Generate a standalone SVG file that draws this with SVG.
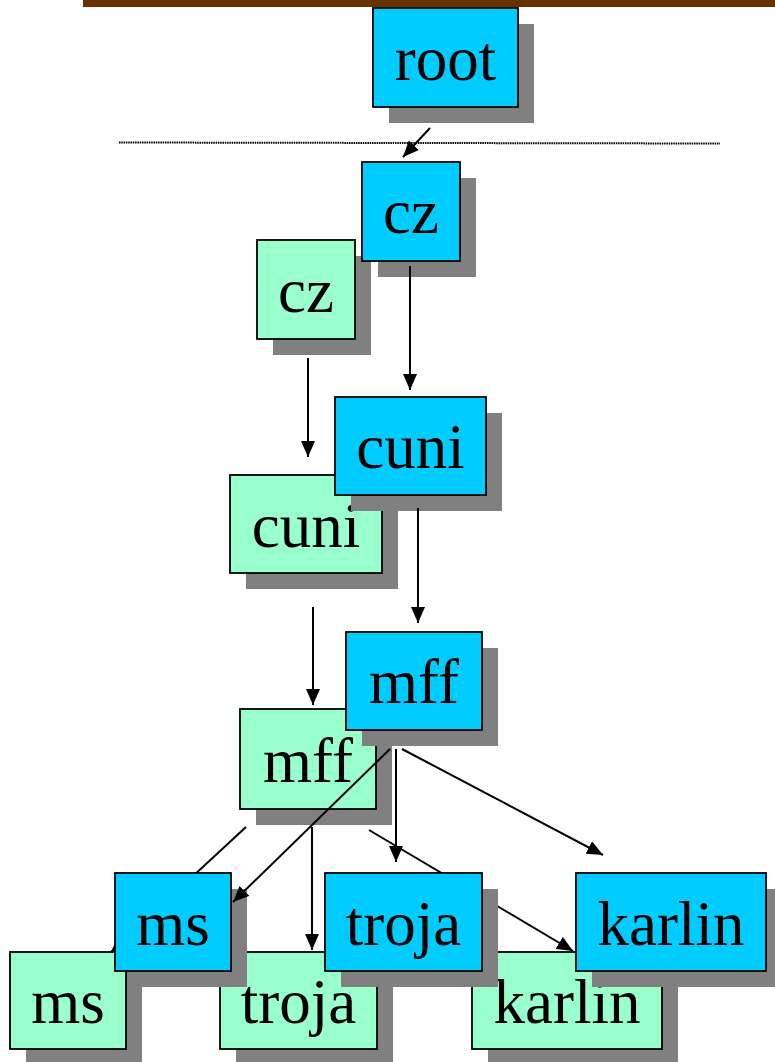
<svg xmlns="http://www.w3.org/2000/svg" width="775" height="1062" viewBox="0 0 775 1062">
<style>
.sh{fill:#808080}
.b{fill:#00CCFF;stroke:#000;stroke-width:1.8}
.g{fill:#99FFCC;stroke:#000;stroke-width:1.8}
.t{font-family:"Liberation Serif","Times New Roman",serif;font-size:63px;fill:#000;text-anchor:middle}
.c{stroke:#000;stroke-width:2;fill:none;marker-end:url(#ah)}
</style>
<defs>
<marker id="ah" markerUnits="userSpaceOnUse" markerWidth="16" markerHeight="14" refX="16" refY="7" orient="auto">
<path d="M0,0 L16,7 L0,14 z" fill="#000"/>
</marker>
</defs>
<rect x="83" y="0" width="692" height="7" fill="#663300"/>
<line x1="119" y1="142.5" x2="720" y2="143.5" stroke="#000" stroke-width="2" stroke-dasharray="1.5,0.8"/>

<g id="cz-green"><rect class="sh" x="273" y="256" width="98" height="99"/><rect class="g" x="257" y="240" width="98" height="99"/><text class="t" x="306" y="312">cz</text></g>
<g id="cuni-green"><rect class="sh" x="246" y="491" width="152" height="98"/><rect class="g" x="230" y="475" width="152" height="98"/><text class="t" x="306" y="547">cuni</text></g>
<g id="mff-green"><rect class="sh" x="256" y="725" width="136" height="100"/><rect class="g" x="240" y="709" width="136" height="100"/><text class="t" x="308" y="782">mff</text></g>
<g id="ms-green"><rect class="sh" x="26" y="968" width="116" height="97"/><rect class="g" x="10" y="952" width="116" height="97"/><text class="t" x="68" y="1023">ms</text></g>
<g id="troja-green"><rect class="sh" x="236" y="968" width="157" height="97"/><rect class="g" x="220" y="952" width="157" height="97"/><text class="t" x="298.5" y="1023">troja</text></g>
<g id="karlin-green"><rect class="sh" x="488" y="968" width="190" height="97"/><rect class="g" x="472" y="952" width="190" height="97"/><text class="t" x="567" y="1023">karlin</text></g>

<g id="connectors-green">
<line class="c" x1="308" y1="358" x2="308" y2="457"/>
<line class="c" x1="313" y1="607" x2="313" y2="705"/>
<line class="c" x1="246" y1="827" x2="111" y2="952"/>
<line class="c" x1="312" y1="827" x2="312" y2="950"/>
<line class="c" x1="369" y1="830" x2="573" y2="951"/>
</g>

<g id="root"><rect class="sh" x="389" y="24" width="145" height="99"/><rect class="b" x="373" y="8" width="145" height="99"/><text class="t" x="445.5" y="80">root</text></g>
<g id="cz-blue"><rect class="sh" x="378" y="178" width="98" height="99"/><rect class="b" x="362" y="162" width="98" height="99"/><text class="t" x="411" y="233">cz</text></g>
<g id="cuni-blue"><rect class="sh" x="351" y="413" width="151" height="98"/><rect class="b" x="335" y="397" width="151" height="98"/><text class="t" x="410.5" y="468">cuni</text></g>
<g id="mff-blue"><rect class="sh" x="362" y="648" width="136" height="98"/><rect class="b" x="346" y="632" width="136" height="98"/><text class="t" x="414" y="703">mff</text></g>
<g id="ms-blue"><rect class="sh" x="131" y="889" width="116" height="98"/><rect class="b" x="115" y="873" width="116" height="98"/><text class="t" x="173" y="945">ms</text></g>
<g id="troja-blue"><rect class="sh" x="341" y="889" width="157" height="98"/><rect class="b" x="325" y="873" width="157" height="98"/><text class="t" x="403.5" y="945">troja</text></g>
<g id="karlin-blue"><rect class="sh" x="592" y="889" width="190" height="98"/><rect class="b" x="576" y="873" width="190" height="98"/><text class="t" x="671" y="945">karlin</text></g>

<g id="connectors-blue">
<line class="c" x1="430" y1="128" x2="403" y2="157"/>
<line class="c" x1="410" y1="266" x2="410" y2="390"/>
<line class="c" x1="418" y1="508" x2="418" y2="623"/>
<line class="c" x1="390" y1="749" x2="233" y2="902"/>
<line class="c" x1="396" y1="749" x2="396" y2="862"/>
<line class="c" x1="402" y1="749" x2="603" y2="855"/>
</g>
</svg>
